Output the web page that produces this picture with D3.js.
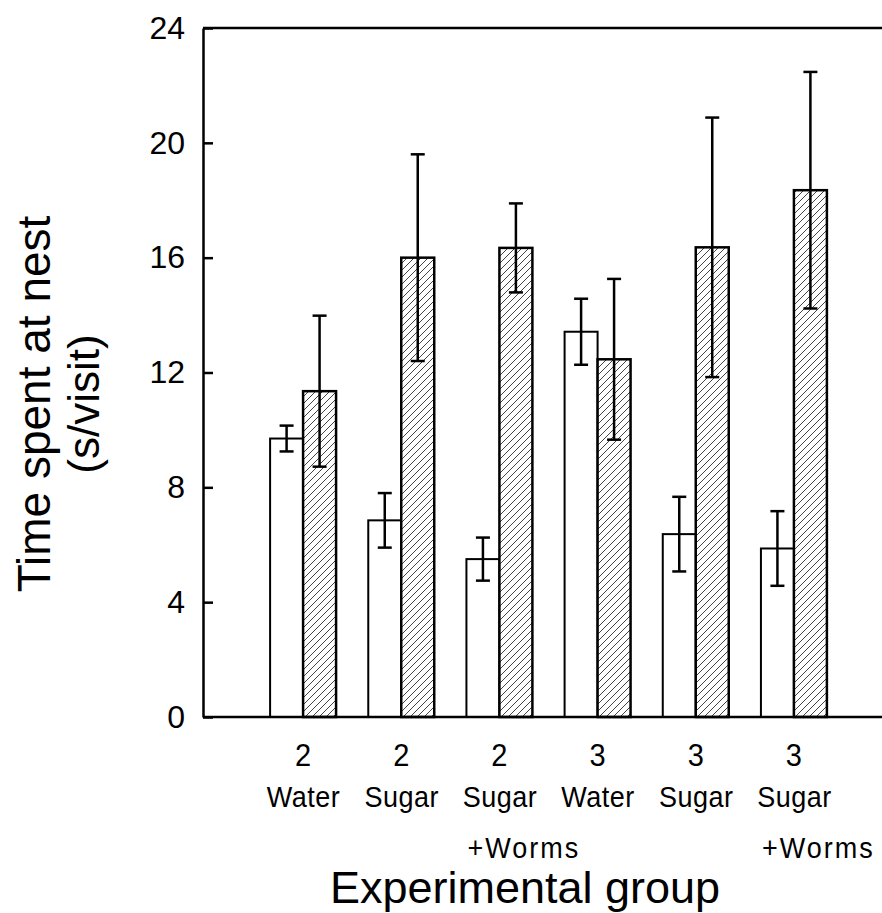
<!DOCTYPE html>
<html><head><meta charset="utf-8">
<script src="https://cdn.jsdelivr.net/npm/d3@7"></script>
<style>html,body{margin:0;padding:0;background:#fff;}</style>
</head><body>
<svg id="c" width="882" height="913"></svg>
<script>
const groups = ["2 Water","2 Sugar","2 Sugar+Worms","3 Water","3 Sugar","3 Sugar+Worms"];
const labelLine1 = ["2","2","2","3","3","3"];
const labelLine2 = ["Water","Sugar","Sugar","Water","Sugar","Sugar"];
const labelLine3 = ["","","+Worms","","","+Worms"];
const series = ["open","hatched"];
const openMean = [9.7, 6.85, 5.5, 13.42, 6.37, 5.87];
const openErr  = [0.45, 0.95, 0.75, 1.15, 1.3, 1.3];
const hatchMean = [11.35, 16.0, 16.34, 12.46, 16.36, 18.35];
const hatchErr  = [2.63, 3.6, 1.55, 2.8, 4.52, 4.12];
const yTicks = [0,4,8,12,16,20,24];

const svg = d3.select("#c");
const font = "Liberation Sans, Arial, sans-serif";
const y = d3.scaleLinear().domain([0,24]).range([717,28]);
const x0 = d3.scaleBand().domain(groups).range([254,843]).paddingInner(0.328).paddingOuter(0.164);
const x1 = d3.scaleBand().domain(series).range([0, x0.bandwidth()]);

const defs = svg.append("defs");
const pat = defs.append("pattern").attr("id","hatch").attr("patternUnits","userSpaceOnUse")
  .attr("width",7).attr("height",7);
pat.append("rect").attr("width",7).attr("height",7).attr("fill","#fff");
pat.append("path").attr("d","M-1,1 L1,-1 M0,7 L7,0 M6,8 L8,6").attr("stroke","#444").attr("stroke-width",1);

const data = [];
groups.forEach((g,i)=>{
  data.push({g, s:"open", v:openMean[i], e:openErr[i]});
  data.push({g, s:"hatched", v:hatchMean[i], e:hatchErr[i]});
});

// bars
svg.selectAll("rect.bar").data(data).enter().append("rect").attr("class","bar")
  .attr("x", d=>x0(d.g)+x1(d.s))
  .attr("y", d=>y(d.v))
  .attr("width", x1.bandwidth())
  .attr("height", d=>y(0)-y(d.v))
  .attr("fill", d=>d.s==="open"?"#fff":"url(#hatch)")
  .attr("stroke","#000").attr("stroke-width", d=>d.s==="open"?2:2.5);

// error bars
const eb = svg.selectAll("g.eb").data(data).enter().append("g").attr("class","eb")
  .attr("stroke","#000").attr("stroke-width",2.5);
const cx = d=>x0(d.g)+x1(d.s)+x1.bandwidth()/2;
eb.append("line").attr("x1",cx).attr("x2",cx).attr("y1",d=>y(d.v+d.e)).attr("y2",d=>y(d.v-d.e));
eb.append("line").attr("x1",d=>cx(d)-7).attr("x2",d=>cx(d)+7).attr("y1",d=>y(d.v+d.e)).attr("y2",d=>y(d.v+d.e));
eb.append("line").attr("x1",d=>cx(d)-7).attr("x2",d=>cx(d)+7).attr("y1",d=>y(d.v-d.e)).attr("y2",d=>y(d.v-d.e));

// frame lines
svg.append("line").attr("x1",203).attr("x2",882).attr("y1",y(24)).attr("y2",y(24)).attr("stroke","#000").attr("stroke-width",2.5);
svg.append("line").attr("x1",203).attr("x2",882).attr("y1",y(0)).attr("y2",y(0)).attr("stroke","#000").attr("stroke-width",2.5);

// y axis
const yAxis = d3.axisLeft(y).tickValues(yTicks).tickSize(-10).tickPadding(18).tickSizeOuter(0);
const ga = svg.append("g").attr("transform","translate(203,0)").call(yAxis);
ga.select(".domain").attr("stroke","#000").attr("stroke-width",2.5);
ga.selectAll(".tick line").attr("stroke","#000").attr("stroke-width",2.5);
ga.selectAll(".tick text").attr("font-family",font).attr("font-size",32).attr("fill","#000");

// x labels
const xl = svg.append("g").attr("font-family",font).attr("fill","#000");
groups.forEach((g,i)=>{
  const c = x0(g)+x0.bandwidth()/2;
  xl.append("text").attr("transform",`translate(${c},766) scale(1,1.08)`).attr("text-anchor","middle").attr("font-size",29).text(labelLine1[i]);
  xl.append("text").attr("transform",`translate(${c+0.5},807) scale(1,1.1)`).attr("text-anchor","middle").attr("font-size",27).attr("letter-spacing",0.5).text(labelLine2[i]);
  if(labelLine3[i]) xl.append("text").attr("transform",`translate(${c-32},858) scale(1,1.1)`).attr("text-anchor","start").attr("font-size",27).attr("letter-spacing",2).text(labelLine3[i]);
});
svg.append("text").attr("x",525).attr("y",903).attr("text-anchor","middle")
  .attr("font-family",font).attr("font-size",45).text("Experimental group");

// y title
const yt = svg.append("text").attr("transform","translate(0,404) rotate(-90)")
  .attr("font-family",font).attr("text-anchor","middle");
yt.append("tspan").attr("x",0).attr("y",50).attr("font-size",46).text("Time spent at nest");
yt.append("tspan").attr("x",0).attr("y",99).attr("font-size",44).text("(s/visit)");
</script>
</body></html>
